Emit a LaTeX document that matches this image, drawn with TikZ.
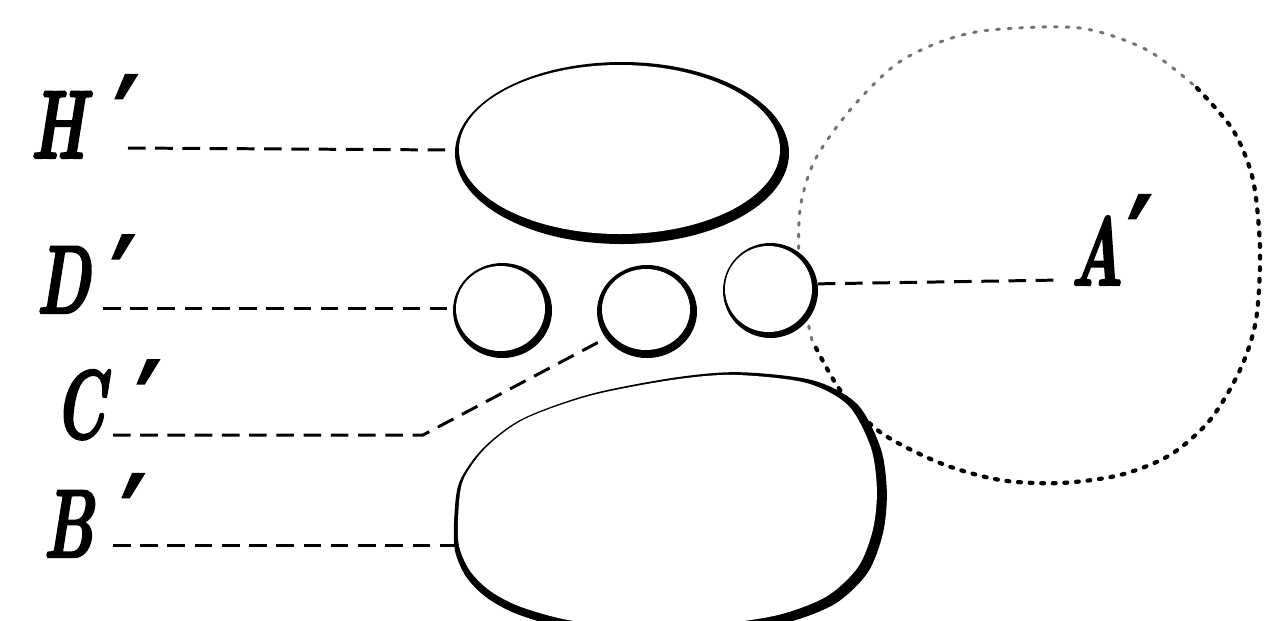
\RequirePackage{fix-cm}
\documentclass[tikz,border=0pt]{standalone}
\usepackage{fontspec}
\newfontfamily\labfont{lmroman10-bolditalic.otf}[FakeBold=2.5]
\newfontfamily\primefont{DejaVu Serif}[FakeBold=2.5]
\usetikzlibrary{shapes.geometric}
\newcommand\primemark{{\fontsize{70}{70}\primefont\bfseries\itshape ′}}
\newcommand\lbl[3]{{\labfont #1}\kern#2\raisebox{#3}{\primemark}}
\begin{document}
\begin{tikzpicture}[x=0.02cm,y=-0.02cm]
\tikzset{
 lab/.style={font=\fontsize{55}{55}\selectfont, inner sep=0, anchor=base west, xscale=0.64, transform shape},
 lead/.style={line width=1.7pt, dash pattern=on 10pt off 5.5pt},
 dots/.style={line width=2.4pt, dash pattern=on 1.6pt off 5pt, line cap=round},
 fdots/.style={line width=1.7pt, dash pattern=on 1.6pt off 5pt, line cap=round, draw=black!55},
 anch/.style={shape=ellipse, inner sep=0, draw=none},
}
\useasboundingbox (0,0) rectangle (1264,620);
\fill[white] (0,0) rectangle (1264,620);
\clip (0,0) rectangle (1264,620);

% dotted circle (heavy lower right, faint upper left)
\draw[dots] plot[smooth] coordinates {(1197,88) (1233,130) (1253,180) (1260,250) (1256,320) (1240,370) (1210,420) (1170,455) (1120,475) (1060,483) (1000,480) (940,463) (880,432) (840,390) (812,340)};
\draw[fdots] plot[smooth] coordinates {(812,340) (800,280) (800,210) (815,160) (850,110) (895,65) (940,42) (990,30) (1080,28) (1147,50) (1197,88)};

% top ellipse H'
\fill[black] (622,153) ellipse [x radius=167, y radius=91];
\fill[white] (619.5,149.5) ellipse [x radius=160.5, y radius=84.5];
\node[anch, minimum width=6.68cm, minimum height=3.64cm] (Hs) at (622,153) {};

% small circles
\fill[black] (502.5,310.5) ellipse [x radius=49.5, y radius=47.5];
\fill[white] (500.5,308.5) ellipse [x radius=44.5, y radius=42.5];
\node[anch, minimum width=1.98cm, minimum height=1.9cm] (Ds) at (502.5,310.5) {};

\fill[black] (647,311.5) ellipse [x radius=50, y radius=46.5];
\fill[white] (646,309.5) ellipse [x radius=44, y radius=40.5];
\node[anch, minimum width=2cm, minimum height=1.86cm] (Cs) at (647,311.5) {};

\fill[black] (770.5,290.5) ellipse [x radius=47.5, y radius=47.5];
\fill[white] (768.5,289) ellipse [x radius=43.5, y radius=43];
\node[anch, minimum width=1.9cm, minimum height=1.9cm] (As) at (770.5,290.5) {};

% bottom egg B'
\begin{scope}[shift={(668,500)}]
\fill[black, shift={(3,3)}, xscale=1.023, yscale=1.03] plot[smooth cycle] coordinates {(-212,17) (-211,47) (-200,72) (-180,92) (-150,108) (-100,122) (-30,129) (40,127) (110,117) (160,98) (192,68) (207,30) (211,-10) (205,-53) (182,-96) (139,-119) (67,-127) (5,-122) (-78,-106) (-145,-82) (-184,-53) (-207,-20)};
\fill[white, xscale=0.99, yscale=0.985] plot[smooth cycle] coordinates {(-212,17) (-211,47) (-200,72) (-180,92) (-150,108) (-100,122) (-30,129) (40,127) (110,117) (160,98) (192,68) (207,30) (211,-10) (205,-53) (182,-96) (139,-119) (67,-127) (5,-122) (-78,-106) (-145,-82) (-184,-53) (-207,-20)};
\end{scope}
\coordinate (Bs) at (455,545);

% labels
\node[lab] (Hl) at (30,158) {\lbl{H}{27pt}{-4pt}};
\node[lab] (Dl) at (36,313) {\lbl{D}{20pt}{-7pt}};
\node[lab] (Cl) at (54,438) {\lbl{C}{29pt}{-7pt}};
\node[lab] (Bl) at (43,557) {\lbl{B}{26pt}{-4pt}};
\node[lab] (Al) at (1070,285) {\lbl{A}{5pt}{0pt}};

% leader lines
\coordinate (h0) at (128,148);
\coordinate (h1) at (452,150);
\coordinate (d0) at (103,308);
\coordinate (d1) at (452,308);
\coordinate (c0) at (113,435);
\coordinate (c1) at (423,435);
\coordinate (b0) at (113,545);
\coordinate (a1) at (1062,280);
\draw[lead] (h0) -- (h1);
\draw[lead] (d0) -- (d1);
\draw[lead] (c0) -- (c1) -- (Cs.213);
\draw[lead] (b0) -- (Bs);
\draw[lead] (As.8) -- (a1);
\end{tikzpicture}
\end{document}
